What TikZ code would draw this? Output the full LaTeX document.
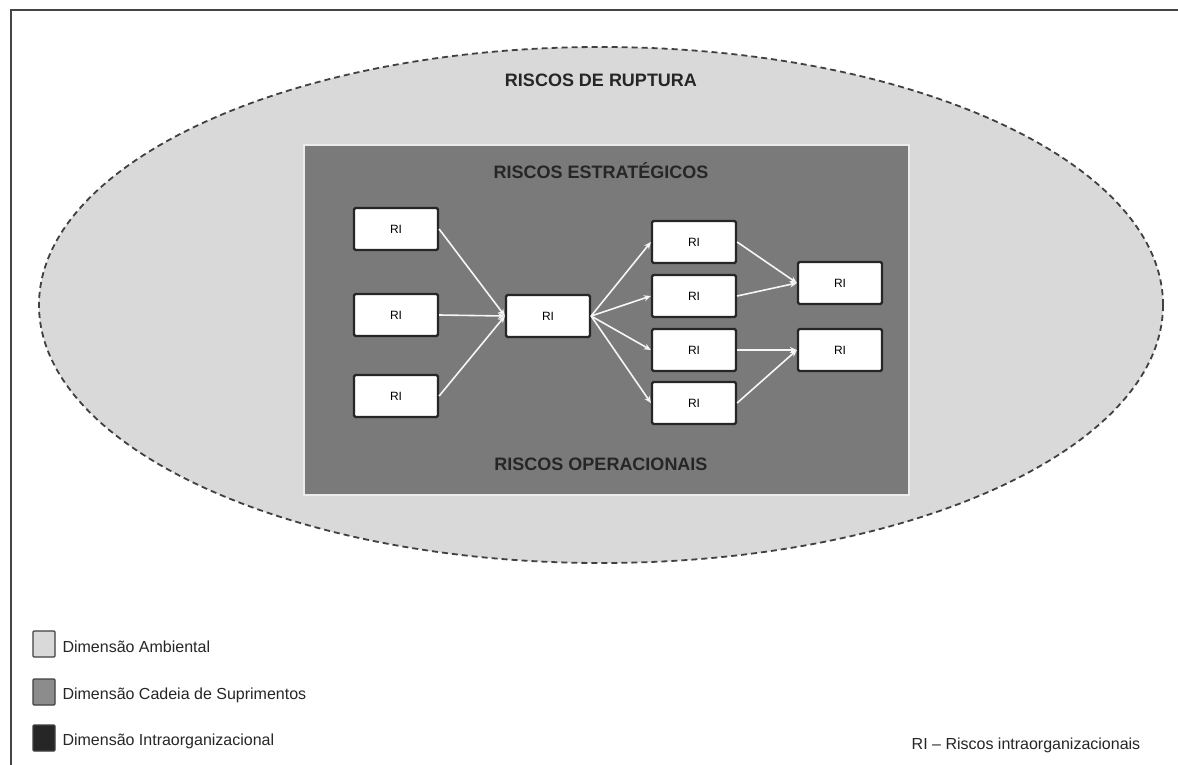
\documentclass[tikz,border=0pt]{standalone}
\usepackage{fontspec}
\setmainfont{Liberation Sans}
\usetikzlibrary{arrows.meta}
\definecolor{ambient}{gray}{0.85}
\definecolor{chain}{gray}{0.48}
\definecolor{intra}{gray}{0.15}
\definecolor{framegray}{gray}{0.27}
\tikzset{
  ri/.style={draw=intra, line width=2.2pt, fill=white, rounded corners=1.5pt,
    minimum width=84pt, minimum height=42pt, inner sep=0pt,
    font=\fontsize{12}{14}\selectfont},
  link/.style={draw=white!93!gray, line width=1.6pt,
    -{Stealth[length=7pt,width=6pt]}},
  title/.style={font=\fontsize{18}{20}\bfseries\selectfont, text=black!85},
  legtext/.style={font=\fontsize{16}{18}\selectfont, text=black!85, anchor=west},
  legbox/.style={draw=black!75, line width=1.2pt, rounded corners=1pt,
    minimum width=22pt, minimum height=26pt, inner sep=0pt}
}
\begin{document}
\begin{tikzpicture}[x=1pt, y=-1pt]
  \useasboundingbox (0,0) rectangle (1178,765);
  \fill[white] (0,0) rectangle (1178,765);
  % outer frame (top and left sides)
  \draw[framegray, line width=2pt] (11,765) -- (11,10) -- (1178,10);

  % environmental dimension
  \draw[fill=ambient, draw=black!75, line width=1.8pt, dash pattern=on 6pt off 4pt]
    (601,305) ellipse [x radius=562, y radius=258];
  \node[title] (rup) at (601,80) {RISCOS DE RUPTURA};

  % supply chain dimension
  \draw[fill=chain, draw=white!85!gray, line width=1.5pt] (304,145) rectangle (909,495);
  \node[title] (est) at (601,171) {RISCOS ESTRATÉGICOS};
  \node[title] (ope) at (601,464) {RISCOS OPERACIONAIS};

  % intraorganizational risks
  \node[ri] (a1) at (396,229) {RI};
  \node[ri] (a2) at (396,315) {RI};
  \node[ri] (a3) at (396,396) {RI};
  \node[ri] (b)  at (548,316) {RI};
  \node[ri] (c1) at (694,242) {RI};
  \node[ri] (c2) at (694,296) {RI};
  \node[ri] (c3) at (694,350) {RI};
  \node[ri] (c4) at (694,403) {RI};
  \node[ri] (d1) at (840,283) {RI};
  \node[ri] (d2) at (840,350) {RI};

  \foreach \s in {a1,a2,a3} \draw[link] (\s.east) -- (b.west);
  \foreach \t in {c1,c2,c3,c4} \draw[link] (b.east) -- (\t.west);
  \draw[link] (c1.east) -- (d1.west);
  \draw[link] (c2.east) -- (d1.west);
  \draw[link] (c3.east) -- (d2.west);
  \draw[link] (c4.east) -- (d2.west);

  % legend
  \node[legbox, fill=ambient] (l1) at (44,644) {};
  \node[legbox, fill=gray!90] (l2) at (44,692) {};
  \node[legbox, fill=intra] (l3) at (44,738) {};
  \node[legtext] (t1) at (59,647) {Dimensão Ambiental};
  \node[legtext] (t2) at (59,695) {Dimensão Cadeia de Suprimentos};
  \node[legtext] (t3) at (59,741) {Dimensão Intraorganizacional};
  \node[legtext, anchor=center] (ri) at (1026,745) {RI – Riscos intraorganizacionais};
\end{tikzpicture}
\end{document}
